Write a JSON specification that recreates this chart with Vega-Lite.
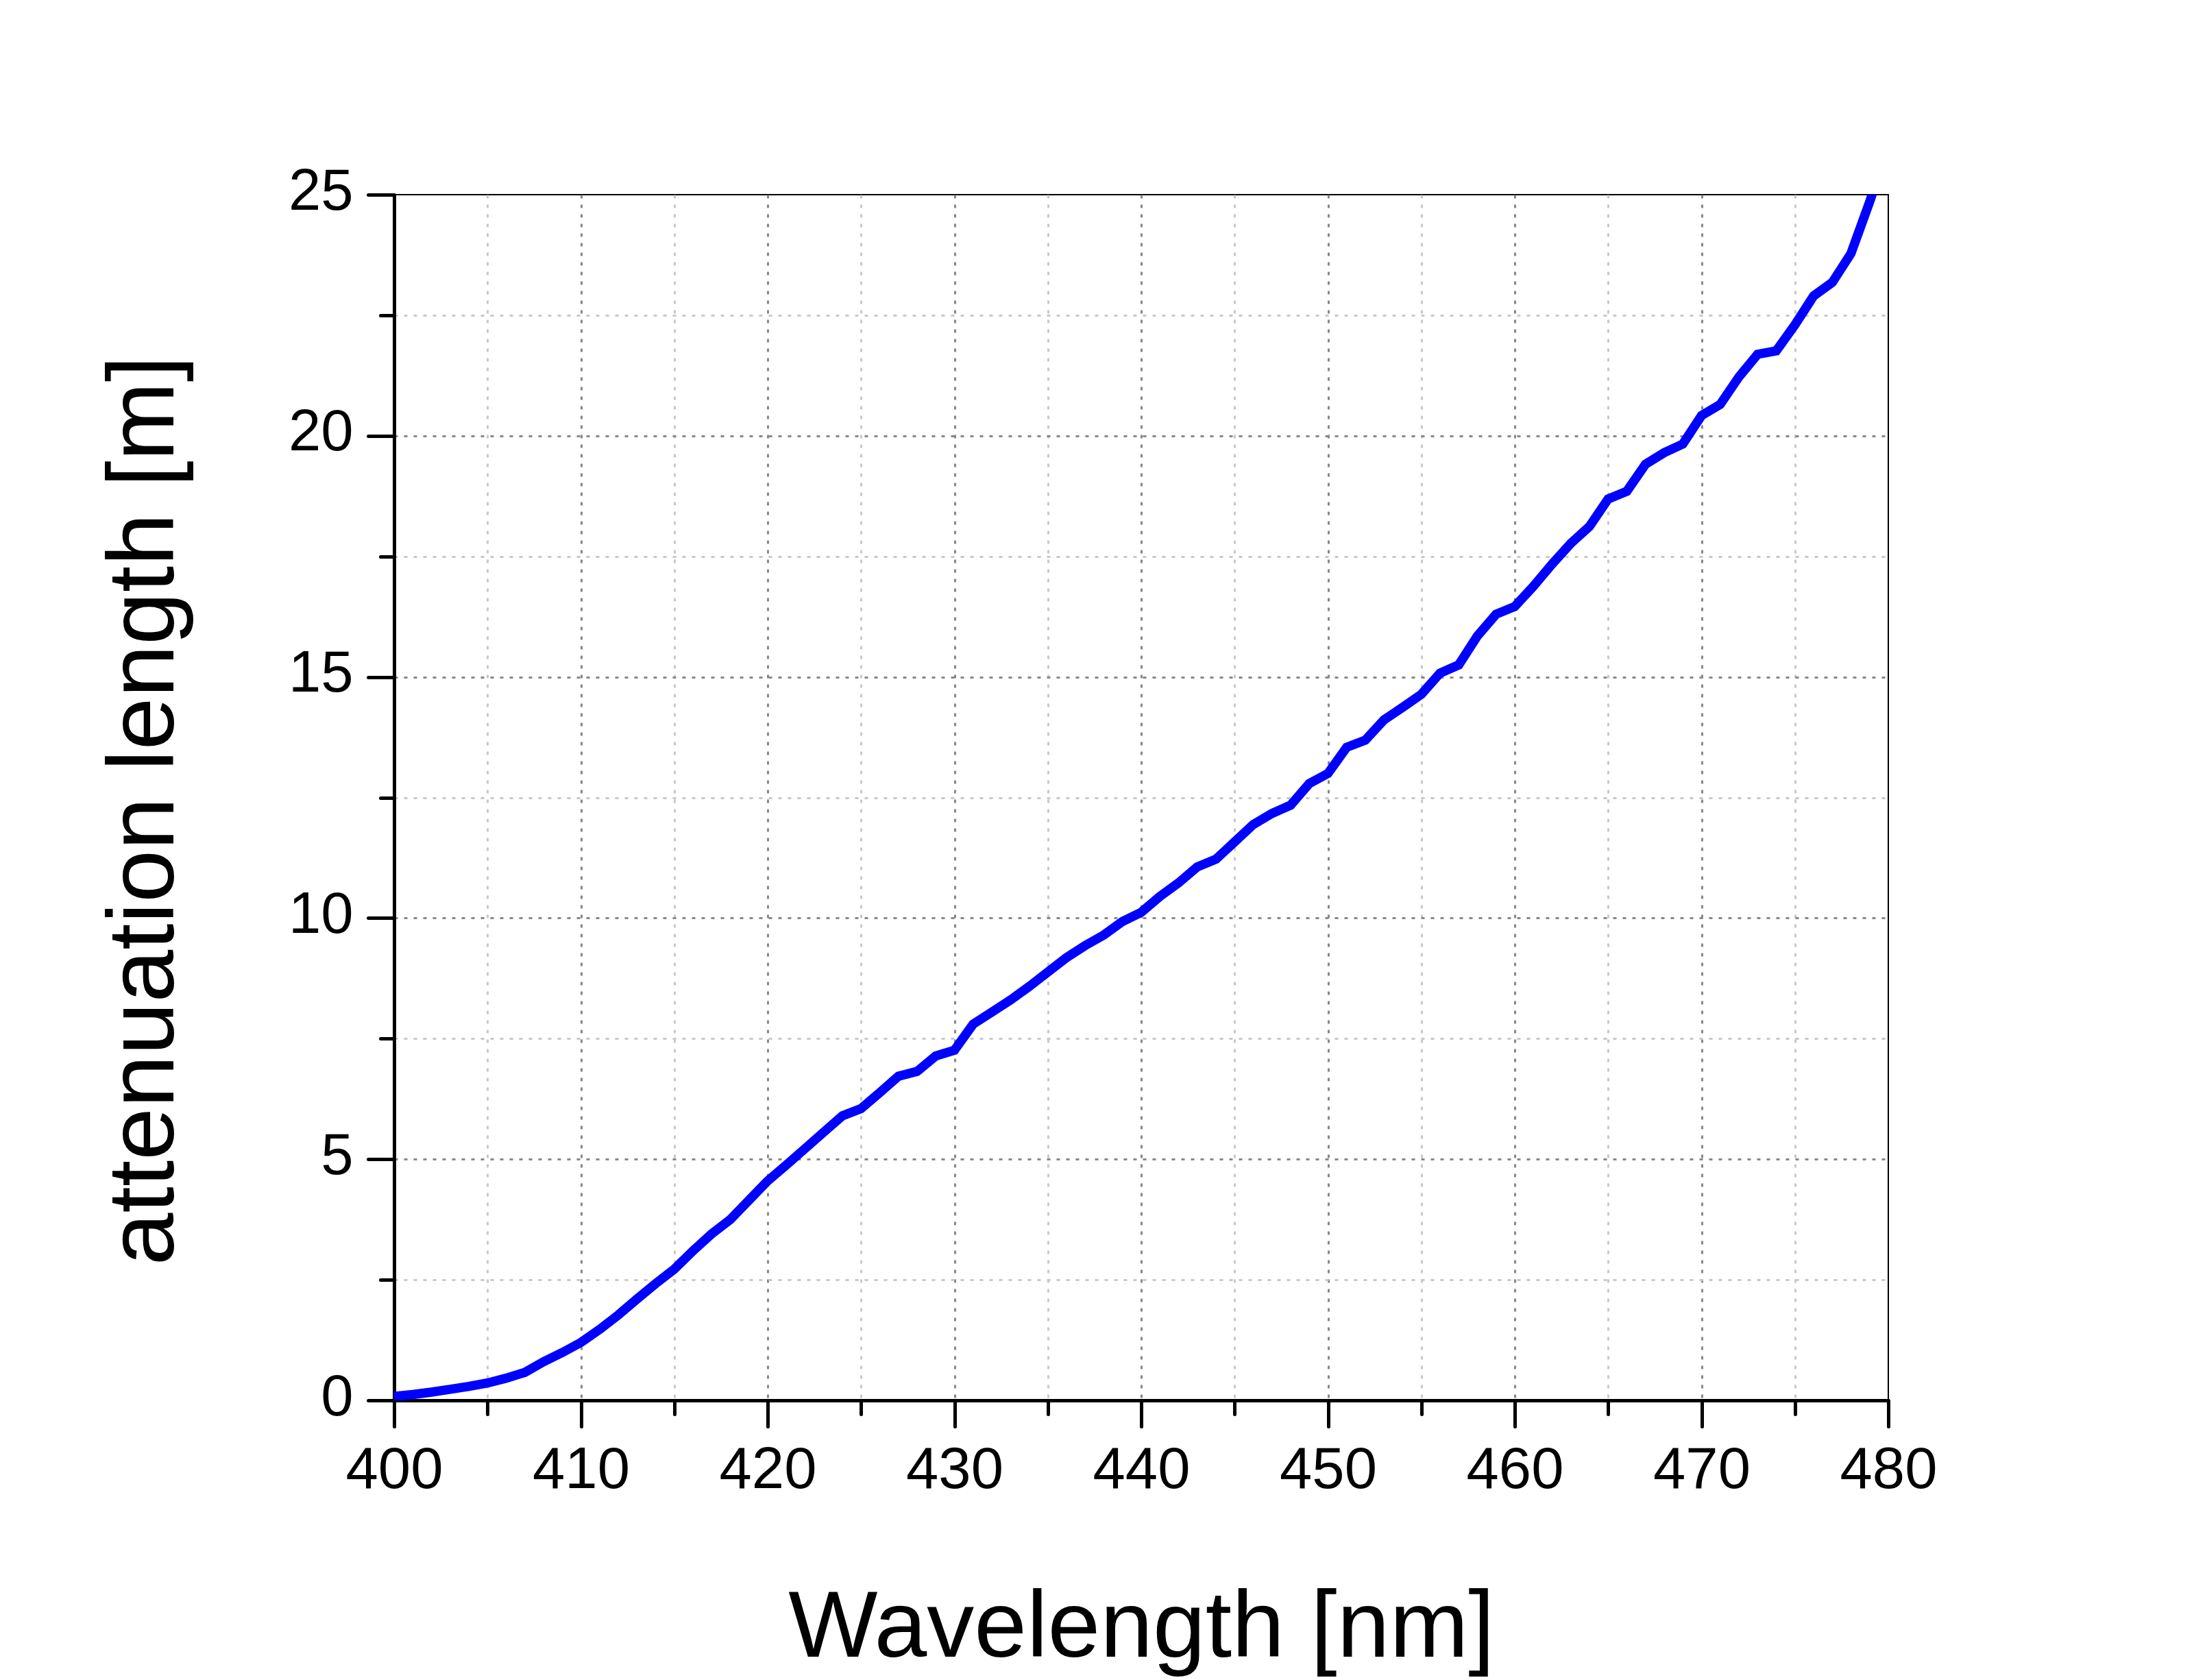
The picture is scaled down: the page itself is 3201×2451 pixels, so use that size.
{
  "$schema": "https://vega.github.io/schema/vega-lite/v6.json",
  "width": 2180,
  "height": 1759,
  "autosize": {"type": "none"},
  "padding": {"left": 575, "top": 284, "right": 446, "bottom": 408},
  "background": "white",
  "config": {
    "view": {"stroke": "#000000", "strokeWidth": 2},
    "axis": {
      "labelFont": "Liberation Sans",
      "titleFont": "Liberation Sans",
      "labelColor": "#000000",
      "titleColor": "#000000",
      "titleFontWeight": "normal",
      "tickColor": "#000000",
      "domainColor": "#000000",
      "tickCap": "round",
      "gridDash": [5, 9],
      "gridWidth": 3
    }
  },
  "data": {
    "values": [
      {"wavelength": 400, "length": 0.08},
      {"wavelength": 401, "length": 0.12},
      {"wavelength": 402, "length": 0.17},
      {"wavelength": 403, "length": 0.23},
      {"wavelength": 404, "length": 0.29},
      {"wavelength": 405, "length": 0.36},
      {"wavelength": 406, "length": 0.46},
      {"wavelength": 407, "length": 0.58},
      {"wavelength": 408, "length": 0.8},
      {"wavelength": 409, "length": 0.99},
      {"wavelength": 410, "length": 1.2},
      {"wavelength": 411, "length": 1.47},
      {"wavelength": 412, "length": 1.77},
      {"wavelength": 413, "length": 2.1},
      {"wavelength": 414, "length": 2.42},
      {"wavelength": 415, "length": 2.72},
      {"wavelength": 416, "length": 3.1},
      {"wavelength": 417, "length": 3.45},
      {"wavelength": 418, "length": 3.75},
      {"wavelength": 419, "length": 4.15},
      {"wavelength": 420, "length": 4.55},
      {"wavelength": 421, "length": 4.88},
      {"wavelength": 422, "length": 5.22},
      {"wavelength": 423, "length": 5.56},
      {"wavelength": 424, "length": 5.9},
      {"wavelength": 425, "length": 6.05},
      {"wavelength": 426, "length": 6.38},
      {"wavelength": 427, "length": 6.72},
      {"wavelength": 428, "length": 6.82},
      {"wavelength": 429, "length": 7.14},
      {"wavelength": 430, "length": 7.26},
      {"wavelength": 431, "length": 7.8},
      {"wavelength": 432, "length": 8.05},
      {"wavelength": 433, "length": 8.3},
      {"wavelength": 434, "length": 8.58},
      {"wavelength": 435, "length": 8.88},
      {"wavelength": 436, "length": 9.18},
      {"wavelength": 437, "length": 9.43},
      {"wavelength": 438, "length": 9.65},
      {"wavelength": 439, "length": 9.93},
      {"wavelength": 440, "length": 10.12},
      {"wavelength": 441, "length": 10.45},
      {"wavelength": 442, "length": 10.73},
      {"wavelength": 443, "length": 11.06},
      {"wavelength": 444, "length": 11.22},
      {"wavelength": 445, "length": 11.58},
      {"wavelength": 446, "length": 11.94},
      {"wavelength": 447, "length": 12.17},
      {"wavelength": 448, "length": 12.34},
      {"wavelength": 449, "length": 12.79},
      {"wavelength": 450, "length": 13.0},
      {"wavelength": 451, "length": 13.54},
      {"wavelength": 452, "length": 13.69},
      {"wavelength": 453, "length": 14.11},
      {"wavelength": 454, "length": 14.37},
      {"wavelength": 455, "length": 14.64},
      {"wavelength": 456, "length": 15.08},
      {"wavelength": 457, "length": 15.25},
      {"wavelength": 458, "length": 15.85},
      {"wavelength": 459, "length": 16.3},
      {"wavelength": 460, "length": 16.46},
      {"wavelength": 461, "length": 16.88},
      {"wavelength": 462, "length": 17.34},
      {"wavelength": 463, "length": 17.77},
      {"wavelength": 464, "length": 18.12},
      {"wavelength": 465, "length": 18.69},
      {"wavelength": 466, "length": 18.85},
      {"wavelength": 467, "length": 19.41},
      {"wavelength": 468, "length": 19.65},
      {"wavelength": 469, "length": 19.83},
      {"wavelength": 470, "length": 20.42},
      {"wavelength": 471, "length": 20.65},
      {"wavelength": 472, "length": 21.22},
      {"wavelength": 473, "length": 21.69},
      {"wavelength": 474, "length": 21.76},
      {"wavelength": 475, "length": 22.3},
      {"wavelength": 476, "length": 22.9},
      {"wavelength": 477, "length": 23.18},
      {"wavelength": 478, "length": 23.78},
      {"wavelength": 479, "length": 24.85},
      {"wavelength": 480, "length": 26.0}
    ]
  },
  "layer": [
    {
      "description": "Minor ticks and light grid (invisible carrier line)",
      "mark": {"type": "line", "strokeOpacity": 0, "clip": true},
      "encoding": {
        "x": {
          "field": "wavelength",
          "type": "quantitative",
          "scale": {"domain": [400, 480], "nice": false, "zero": false},
          "axis": {
            "orient": "bottom",
            "values": [405, 415, 425, 435, 445, 455, 465, 475],
            "domain": false,
            "labels": false,
            "title": null,
            "tickSize": 20,
            "tickWidth": 5,
            "grid": true,
            "gridColor": "#c8c8c8"
          }
        },
        "y": {
          "field": "length",
          "type": "quantitative",
          "scale": {"domain": [0, 25], "nice": false},
          "axis": {
            "orient": "left",
            "values": [2.5, 7.5, 12.5, 17.5, 22.5],
            "domain": false,
            "labels": false,
            "title": null,
            "tickSize": 20,
            "tickWidth": 5,
            "grid": true,
            "gridColor": "#c8c8c8"
          }
        }
      }
    },
    {
      "description": "Major grid inside the frame only (invisible carrier line)",
      "mark": {"type": "line", "strokeOpacity": 0, "clip": true},
      "encoding": {
        "x": {
          "field": "wavelength",
          "type": "quantitative",
          "axis": {
            "orient": "bottom",
            "values": [410, 420, 430, 440, 450, 460, 470],
            "domain": false,
            "labels": false,
            "ticks": false,
            "title": null,
            "grid": true,
            "gridColor": "#888888"
          }
        },
        "y": {
          "field": "length",
          "type": "quantitative",
          "axis": {
            "orient": "left",
            "values": [5, 10, 15, 20],
            "domain": false,
            "labels": false,
            "ticks": false,
            "title": null,
            "grid": true,
            "gridColor": "#888888"
          }
        }
      }
    },
    {
      "description": "Attenuation curve with major ticks, labels and titles",
      "mark": {"type": "line", "color": "#0000ff", "strokeWidth": 13.5, "clip": true},
      "encoding": {
        "x": {
          "field": "wavelength",
          "type": "quantitative",
          "axis": {
            "orient": "bottom",
            "values": [400, 410, 420, 430, 440, 450, 460, 470, 480],
            "domain": true,
            "domainWidth": 5,
            "tickSize": 38,
            "tickWidth": 5,
            "grid": false,
            "labelFontSize": 85,
            "labelBaseline": "alphabetic",
            "labelPadding": 89,
            "labelFlush": false,
            "title": "Wavelength [nm]",
            "titleFontSize": 138,
            "titleBaseline": "alphabetic",
            "titleY": 373
          }
        },
        "y": {
          "field": "length",
          "type": "quantitative",
          "axis": {
            "orient": "left",
            "values": [0, 5, 10, 15, 20, 25],
            "domain": true,
            "domainWidth": 5,
            "tickSize": 38,
            "tickWidth": 5,
            "grid": false,
            "labelFontSize": 85,
            "labelPadding": 22,
            "labelOffset": -5,
            "labelFlush": false,
            "title": "attenuation length [m]",
            "titleFontSize": 138,
            "titleAngle": -90,
            "titleAlign": "center",
            "titleBaseline": "alphabetic",
            "titleX": -323,
            "titleY": 898
          }
        }
      }
    }
  ],
  "resolve": {"axis": {"x": "independent", "y": "independent"}}
}
